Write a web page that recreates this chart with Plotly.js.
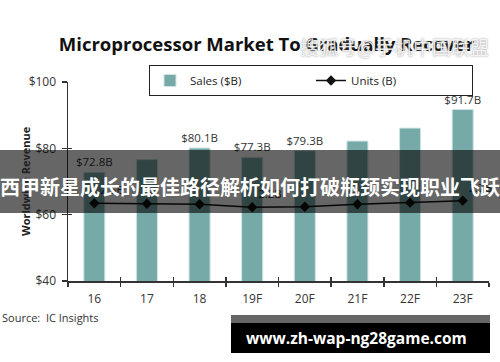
<!DOCTYPE html>
<html>
<head>
<meta charset="utf-8">
<script src="https://cdn.plot.ly/plotly-3.0.1.min.js"></script>
<style>html,body{margin:0;padding:0;background:#fff;}#chart{width:500px;height:362px;}</style>
</head>
<body>
<div id="chart"></div>
<script>
// Data
const years = ['16', '17', '18', '19F', '20F', '21F', '22F', '23F'];
const salesB = [72.8, 76.6, 80.1, 77.3, 79.3, 82.2, 86.1, 91.7];
const salesLabels = ['$72.8B', '', '$80.1B', '$77.3B', '$79.3B', '', '', '$91.7B'];
const unitsB = [2.5, 2.47, 2.43, 2.2, 2.24, 2.43, 2.55, 2.7];
const unitsLabels = ['2.5B', '', '', '2.2B', '', '', '', '2.7B'];
const yTickVals = [40, 60, 80, 100];
const yTickText = ['$40', '$60', '$80', '$100'];

const FONT = '"Open Sans", "Noto Sans", sans-serif';
const CJK = '"Noto Sans CJK SC", sans-serif';

// plot area in pixels: x 68..489, y 82..281
const L = 68, R = 489, T = 82, B = 281;
const px = x => (x - L) / (R - L);
const py = y => (B - y) / (B - T);

const traces = [
  {
    type: 'bar', name: 'Sales ($B)', x: years, y: salesB,
    text: salesLabels, textposition: 'outside', constraintext: 'none', cliponaxis: false,
    textfont: {family: FONT, size: 11.5, color: '#333'},
    marker: {color: '#76aaa9', line: {color: '#cfe4e3', width: 1}},
    width: 0.4, hoverinfo: 'x+y'
  },
  {
    type: 'scatter', mode: 'lines+markers+text', name: 'Units (B)', x: years, y: unitsB,
    xaxis: 'x2', yaxis: 'y2',
    text: unitsLabels, textposition: 'top right', cliponaxis: false,
    textfont: {family: FONT, size: 11.5, color: '#333'},
    line: {color: '#111', width: 1.5},
    marker: {symbol: 'diamond', size: 8, color: '#111'}
  },
  {
    type: 'scatter', mode: 'none', x: years, y: salesB, xaxis: 'x', yaxis: 'y3',
    showlegend: false, hoverinfo: 'skip'
  }
];

const layout = {
  width: 500, height: 362,
  margin: {l: L, r: 500 - R, t: T, b: 362 - B, pad: 0},
  paper_bgcolor: '#fff', plot_bgcolor: '#fff',
  font: {family: FONT, size: 11.5, color: '#333'},
  title: {
    text: '<b>Microprocessor Market To Gradually Recover</b>',
    font: {family: FONT, size: 18.5, color: '#111'},
    x: 0.533, xanchor: 'center', y: 1 - 45 / 362, yanchor: 'middle', xref: 'container', yref: 'container'
  },
  showlegend: true,
  legend: {
    orientation: 'h', x: px(149), xanchor: 'left', y: py(65), yanchor: 'top',
    bordercolor: '#222', borderwidth: 1, bgcolor: '#fff',
    font: {family: FONT, size: 11.5, color: '#222'}, itemwidth: 30, tracegroupgap: 0,
    entrywidth: 116, entrywidthmode: 'pixels'
  },
  bargap: 0.6,
  xaxis: {
    type: 'category', categoryarray: years, range: [-0.5, 7.5],
    showline: true, linecolor: '#333', linewidth: 1.5,
    ticks: 'outside', tickson: 'boundaries', ticklen: 4, tickcolor: '#333', tickwidth: 1.5,
    ticklabelstandoff: 6, tickfont: {family: FONT, size: 12, color: '#333'},
    showgrid: false, zeroline: false, fixedrange: true
  },
  xaxis2: {
    type: 'category', categoryarray: years, range: [-0.5, 7.5], overlaying: 'x', anchor: 'y',
    side: 'bottom', showline: false,
    ticks: 'inside', tickson: 'boundaries', ticklen: 4, tickcolor: '#333', tickwidth: 1.5,
    showticklabels: false, showgrid: false, zeroline: false
  },
  yaxis: {
    range: [40, 100], tickvals: yTickVals, ticktext: yTickText,
    showline: true, linecolor: '#333', linewidth: 1.5,
    ticks: 'outside', ticklen: 5, tickcolor: '#333', tickwidth: 1.5,
    ticklabelstandoff: 3, tickfont: {family: FONT, size: 12, color: '#333'},
    showgrid: false, zeroline: false
  },
  yaxis2: {range: [-3.34, 11.62], overlaying: 'y', side: 'right', visible: false},
  yaxis3: {
    range: [40, 100], tickvals: yTickVals, overlaying: 'y', side: 'left', anchor: 'x',
    ticks: 'inside', ticklen: 4, tickcolor: '#333', tickwidth: 1.5,
    showticklabels: false, showline: false, showgrid: false, zeroline: false
  },
  shapes: [
    {type: 'rect', xref: 'paper', yref: 'paper', x0: px(0), x1: px(500), y0: py(213), y1: py(150),
     fillcolor: 'rgba(0,0,0,0.6)', line: {width: 0}, layer: 'above'},
    {type: 'rect', xref: 'paper', yref: 'paper', x0: px(231), x1: px(490), y0: py(323), y1: py(315),
     fillcolor: '#666', line: {width: 0}, layer: 'above'},
    {type: 'rect', xref: 'paper', yref: 'paper', x0: px(231), x1: px(490), y0: py(353), y1: py(323),
     fillcolor: '#000', line: {width: 0}, layer: 'above'}
  ],
  annotations: [
    {text: '<b>Worldwide Revenue</b>', xref: 'paper', yref: 'paper', x: px(16), y: 0.5,
     textangle: -90, showarrow: false, font: {family: FONT, size: 11, color: '#222'}},
    {text: 'Source:  IC Insights', xref: 'paper', yref: 'paper', x: px(0), y: py(317),
     xanchor: 'left', yanchor: 'middle', showarrow: false, font: {family: FONT, size: 11, color: '#333'}},
    {text: '<b>西甲新星成长的最佳路径解析如何打破瓶颈实现职业飞跃</b>', xref: 'paper', yref: 'paper',
     x: px(250), y: py(186), xanchor: 'center', yanchor: 'middle', showarrow: false,
     font: {family: CJK, size: 20, color: '#fff'}},
    {text: '<b>www.zh-wap-ng28game.com</b>', xref: 'paper', yref: 'paper',
     x: px(356), y: py(338), xanchor: 'center', yanchor: 'middle', showarrow: false,
     font: {family: FONT, size: 15.5, color: '#fff'}},
    {text: '搜狐号@手机中国联盟', xref: 'paper', yref: 'paper',
     x: px(394), y: py(46.5), xanchor: 'center', yanchor: 'middle', showarrow: false,
     font: {family: CJK, size: 19, color: 'rgba(255,255,255,0.85)', shadow: '0px 0px 2px #777'}}
  ]
};

Plotly.newPlot('chart', traces, layout, {displayModeBar: false, staticPlot: true});
</script>
</body>
</html>
